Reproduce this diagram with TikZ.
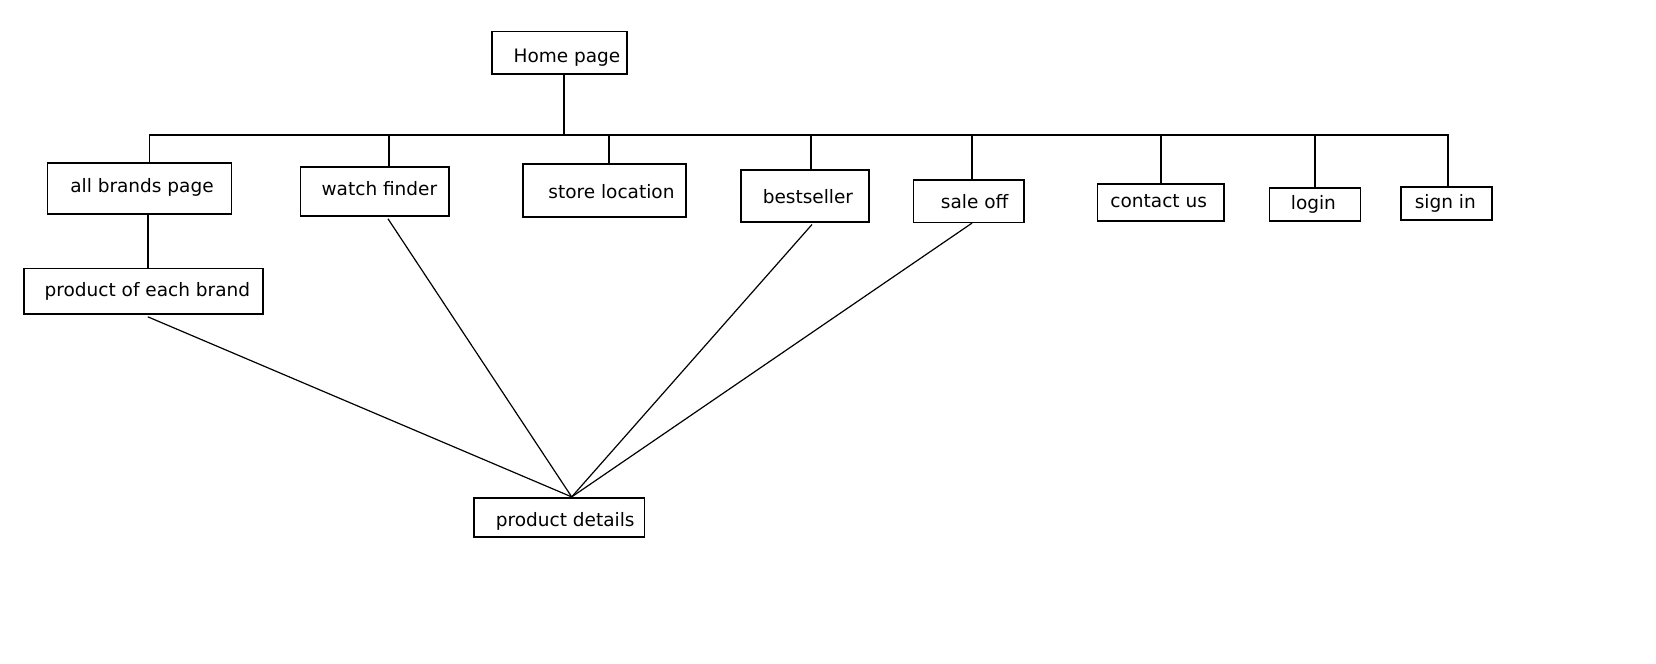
\documentclass[tikz,border=0pt]{standalone}
\usepackage{fontspec}
\setmainfont{DejaVu Sans}
\usetikzlibrary{calc}

\begin{document}
\begin{tikzpicture}[x=0.5pt, y=-0.5pt,
		page/.style 2 args = {draw, line width=0.8pt, inner sep=0pt, minimum width=#1, minimum height=#2},
		every label/.style = {font=\fontsize{9.25}{11}\selectfont, inner sep=0pt},
		link/.style = {line width=0.8pt},
		ref/.style = {line width=0.6pt}]
	\useasboundingbox (0,0) rectangle (1656,664);
	\node[page={67.5pt}{21.15pt}, label={[xshift=3.9pt,yshift=-2.6pt]center:Home page}] (home) at (559.2,52.8) {};
	\node[page={91.9pt}{25.65pt}, label={[xshift=1.3pt,yshift=0.5pt]center:all brands page}] (brands) at (139.4,188.35) {};
	\node[page={74.2pt}{24.65pt}, label={[xshift=2.4pt,yshift=1.3pt]center:watch finder}] (finder) at (374.6,191.35) {};
	\node[page={81.55pt}{26.65pt}, label={[xshift=3.6pt,yshift=-0.5pt]center:store location}] (store) at (604.25,190.35) {};
	\node[page={64.1pt}{26pt}, label={[xshift=1.5pt,yshift=-0.6pt]center:bestseller}] (best) at (804.9,195.7) {};
	\node[page={55.2pt}{21.15pt}, label={[xshift=3pt,yshift=-0.3pt]center:sale off}] (sale) at (968.7,201.15) {};
	\node[page={63.35pt}{18.65pt}, label={[xshift=-1pt,yshift=0.8pt]center:contact us}] (contact) at (1160.7,202.35) {};
	\node[page={45.65pt}{16.65pt}, label={[xshift=-0.8pt]center:login}] (login) at (1315,204.35) {};
	\node[page={45.4pt}{16.65pt}, label={[xshift=-0.5pt]center:sign in}] (signin) at (1446.3,203.35) {};
	\node[page={119.6pt}{22.85pt}, label={[xshift=2pt]center:product of each brand}] (eachbrand) at (143.4,291.15) {};
	\node[page={85.3pt}{19.65pt}, label={[xshift=3.1pt,yshift=-2pt]center:product details}] (details) at (559,517.35) {};

	% tree under the home page
	\coordinate (hub) at (564,135);
	\draw[link] (home.south -| hub) -- (hub);
	\draw[link] ([xshift=5pt]brands.north) |- (hub);
	\draw[link] ([xshift=7.2pt]finder.north) |- (hub);
	\draw[link] ([xshift=2.3pt]store.north) |- (hub);
	\draw[link] ([xshift=3pt]best.north) |- (hub);
	\draw[link] ([xshift=1.7pt]sale.north) |- (hub);
	\draw[link] (contact.north) |- (hub);
	\draw[link] (login.north) |- (hub);
	\draw[link] ([xshift=0.85pt]signin.north) |- (hub);
	\draw[link] ([xshift=4.2pt]brands.south) -- ([xshift=4.2pt]brands.south |- eachbrand.north);

	% links to product details
	\coordinate (meet) at ([xshift=6.35pt]details.north);
	\draw[ref] ([xshift=2.2pt,yshift=-1pt]eachbrand.south) -- (meet);
	\draw[ref] ([xshift=6.7pt,yshift=-1pt]finder.south) -- (meet);
	\draw[ref] ([xshift=3.55pt,yshift=-1pt]best.south) -- (meet);
	\draw[ref] ([xshift=1.65pt]sale.south) -- (meet);
\end{tikzpicture}
\end{document}
